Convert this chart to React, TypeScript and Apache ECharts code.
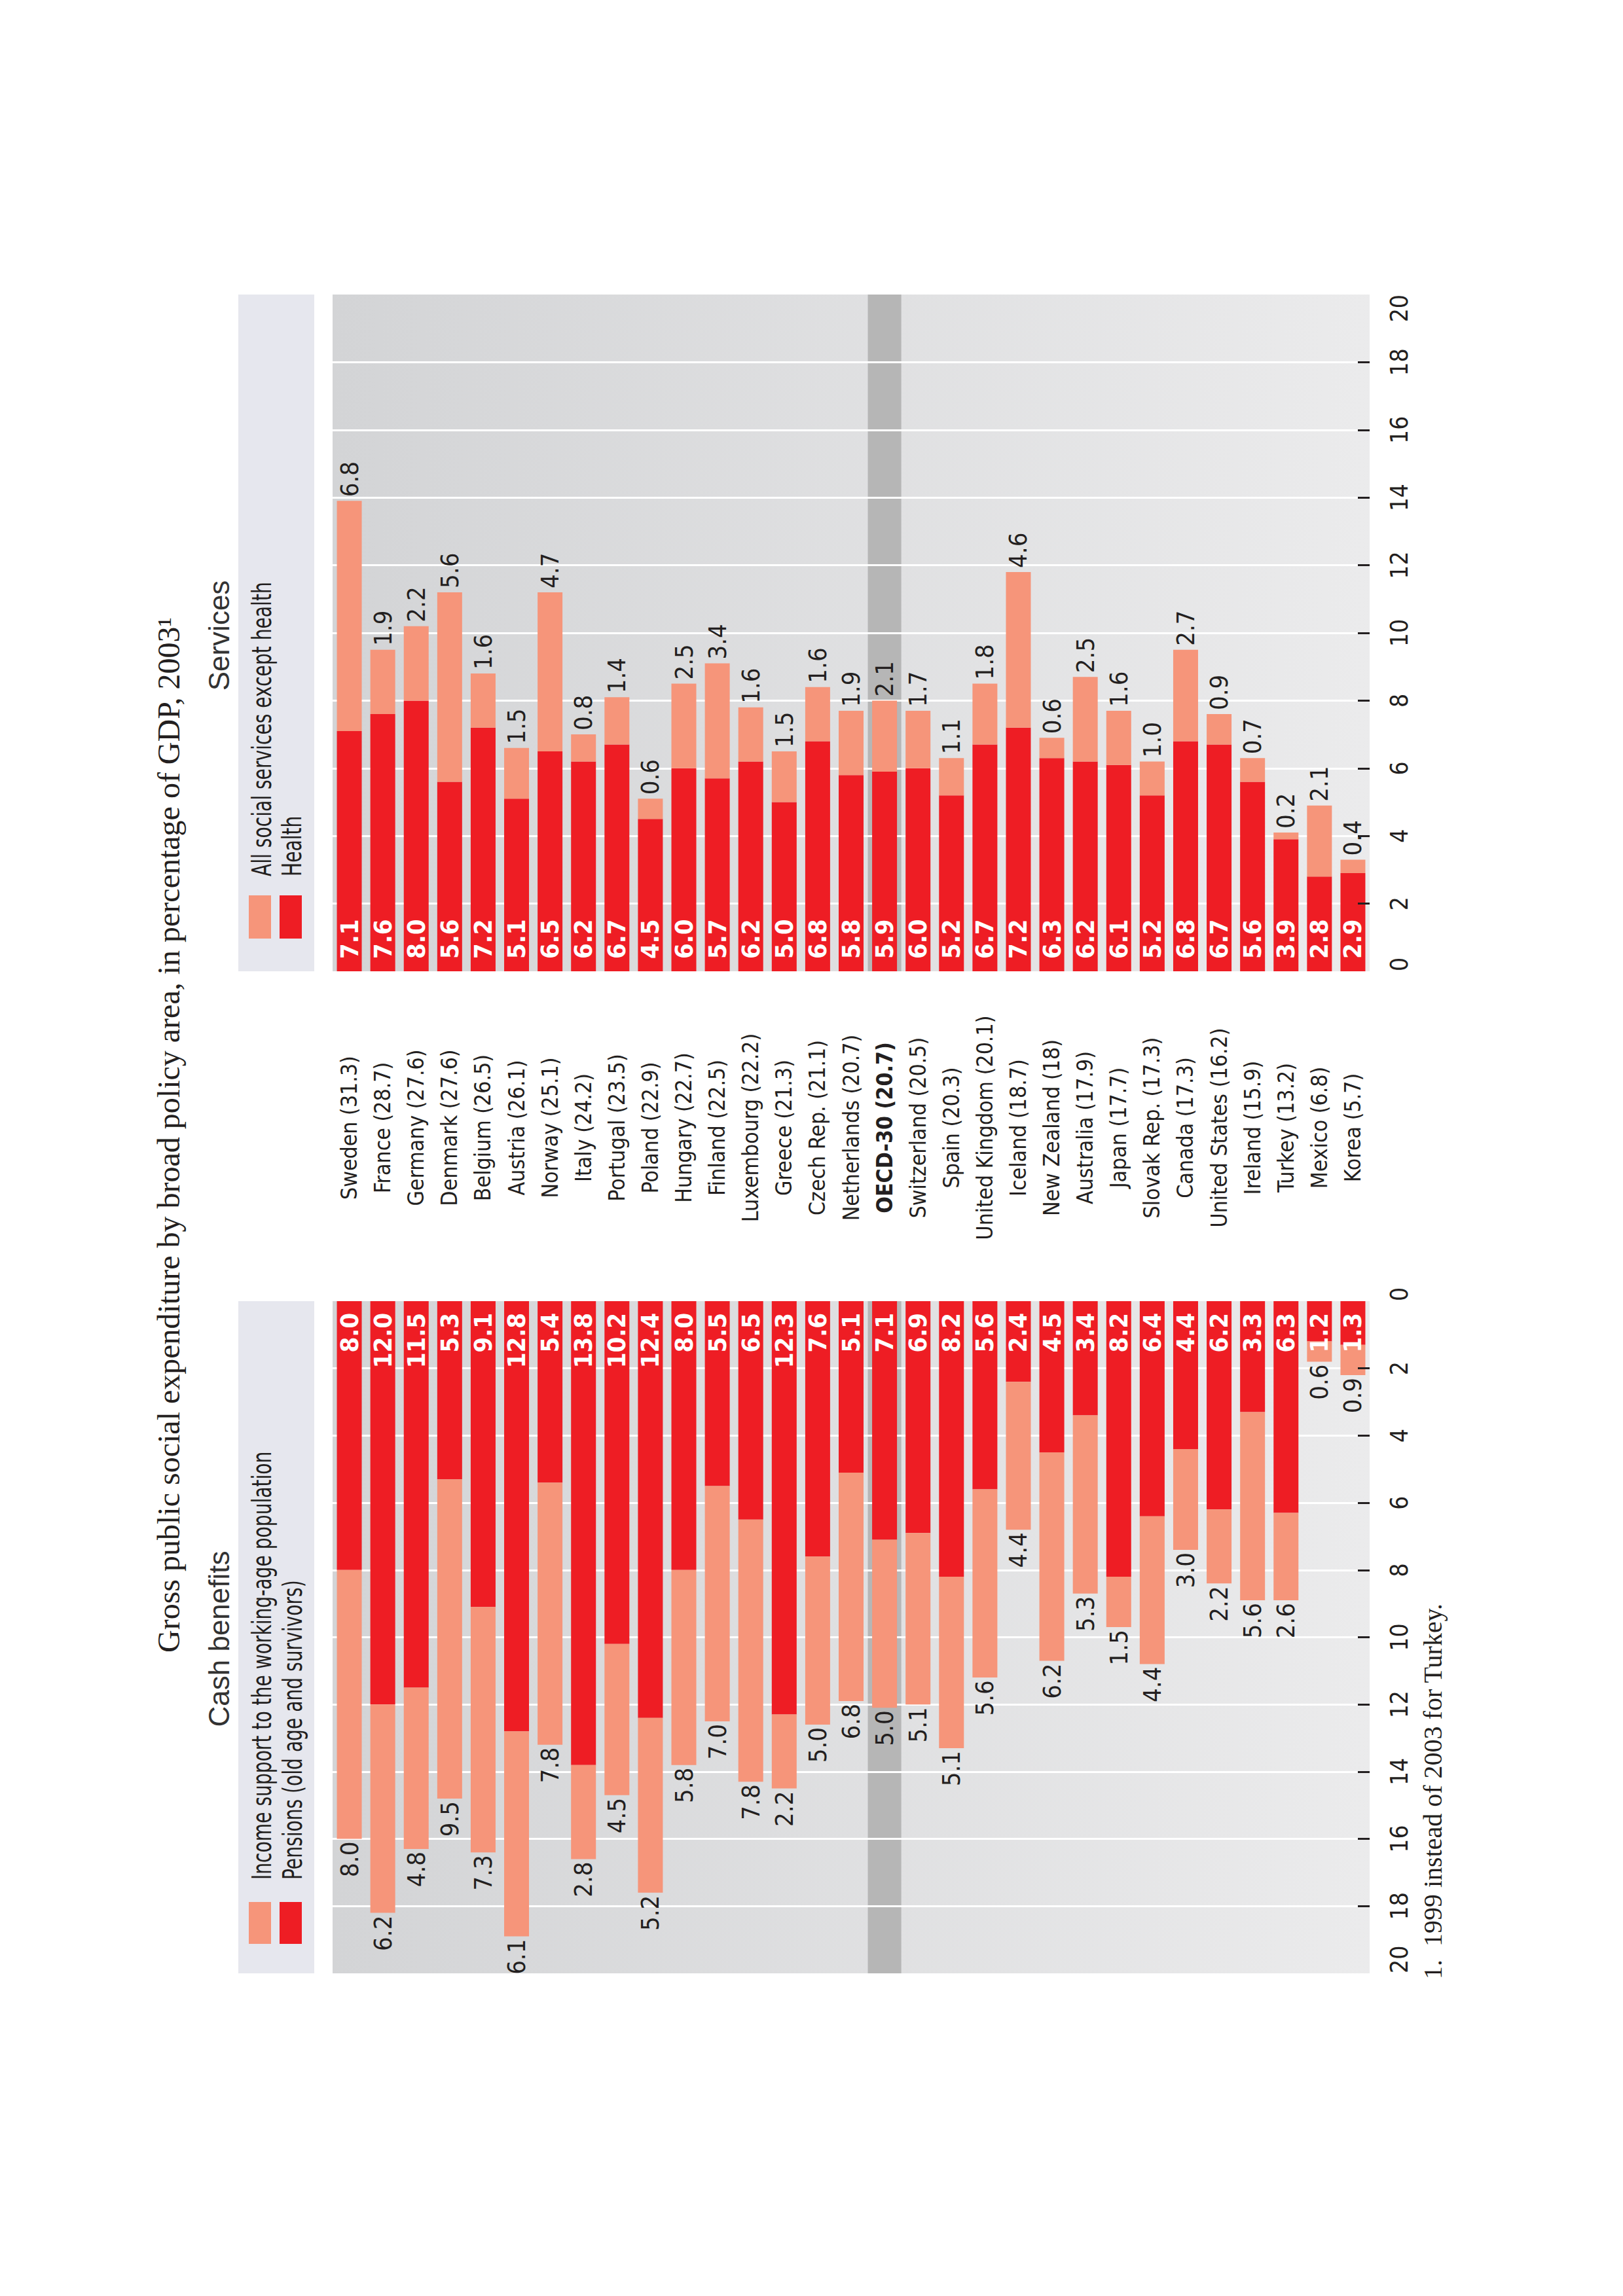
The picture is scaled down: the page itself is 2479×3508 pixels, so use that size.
import React, { useEffect, useRef } from "react";
import * as echarts from "echarts";

const countryNames = [
  "Sweden", "France", "Germany", "Denmark", "Belgium", "Austria", "Norway", "Italy",
  "Portugal", "Poland", "Hungary", "Finland", "Luxembourg", "Greece", "Czech Rep.",
  "Netherlands", "OECD-30", "Switzerland", "Spain", "United Kingdom", "Iceland",
  "New Zealand", "Australia", "Japan", "Slovak Rep.", "Canada", "United States",
  "Ireland", "Turkey", "Mexico", "Korea",
];
const totalSpending = [
  31.3, 28.7, 27.6, 27.6, 26.5, 26.1, 25.1, 24.2, 23.5, 22.9, 22.7, 22.5, 22.2, 21.3,
  21.1, 20.7, 20.7, 20.5, 20.3, 20.1, 18.7, 18, 17.9, 17.7, 17.3, 17.3, 16.2, 15.9,
  13.2, 6.8, 5.7,
];
const highlightCountry = "OECD-30";

// Cash benefits
const pensions = [
  8.0, 12.0, 11.5, 5.3, 9.1, 12.8, 5.4, 13.8, 10.2, 12.4, 8.0, 5.5, 6.5, 12.3, 7.6, 5.1,
  7.1, 6.9, 8.2, 5.6, 2.4, 4.5, 3.4, 8.2, 6.4, 4.4, 6.2, 3.3, 6.3, 1.2, 1.3,
];
const incomeSupport = [
  8.0, 6.2, 4.8, 9.5, 7.3, 6.1, 7.8, 2.8, 4.5, 5.2, 5.8, 7.0, 7.8, 2.2, 5.0, 6.8,
  5.0, 5.1, 5.1, 5.6, 4.4, 6.2, 5.3, 1.5, 4.4, 3.0, 2.2, 5.6, 2.6, 0.6, 0.9,
];
// Services
const health = [
  7.1, 7.6, 8.0, 5.6, 7.2, 5.1, 6.5, 6.2, 6.7, 4.5, 6.0, 5.7, 6.2, 5.0, 6.8, 5.8,
  5.9, 6.0, 5.2, 6.7, 7.2, 6.3, 6.2, 6.1, 5.2, 6.8, 6.7, 5.6, 3.9, 2.8, 2.9,
];
const otherServices = [
  6.8, 1.9, 2.2, 5.6, 1.6, 1.5, 4.7, 0.8, 1.4, 0.6, 2.5, 3.4, 1.6, 1.5, 1.6, 1.9,
  2.1, 1.7, 1.1, 1.8, 4.6, 0.6, 2.5, 1.6, 1.0, 2.7, 0.9, 0.7, 0.2, 2.1, 0.4,
];

const valueTicks = [0, 2, 4, 6, 8, 10, 12, 14, 16, 18, 20];
const servicesLegend = ["All social services except health", "Health"];
const cashLegend = ["Income support to the working-age population", "Pensions (old age and survivors)"];
const titleText = "Gross public social expenditure by broad policy area, in percentage of GDP, 2003\u00B9";
const cashTitle = "Cash benefits";
const servicesTitle = "Services";
const footnote = "1.  1999 instead of 2003 for Turkey.";

const RED = "#ee1d24";
const SALMON = "#f6957a";
const BAND = "#b6b6b6";
const DARK = "#231f20";
const LEGEND_BG = "#e6e7ee";
const SANS = "'Liberation Sans', Arial, sans-serif";
const SERIF = "'Liberation Serif', 'Times New Roman', serif";

const W = 2479;
const H = 3508;

const SAMPLE = "United Kingdom (20.1) Income support 0123456789";

function measure(font: string): number {
  const ctx = document.createElement("canvas").getContext("2d");
  if (!ctx) return 0;
  ctx.font = font;
  return ctx.measureText(SAMPLE).width;
}

function fontPresent(name: string): boolean {
  for (const base of ["monospace", "serif"]) {
    const w0 = measure(`40px ${base}`);
    const w1 = measure(`40px '${name}', ${base}`);
    if (Math.abs(w0 - w1) > 0.5) return true;
  }
  return false;
}

function pickNarrow(): { family: string; k: number } {
  const candidates = [
    "Liberation Sans Narrow",
    "Arial Narrow",
    "Noto Sans Condensed",
    "Noto Sans ExtraCondensed",
    "Noto Sans SemiCondensed",
    "DejaVu Sans Condensed",
    "Roboto",
    "Liberation Sans",
  ];
  let chosen = "Liberation Sans";
  for (const c of candidates) {
    if (fontPresent(c)) {
      chosen = c;
      break;
    }
  }
  const ref = measure(`40px 'Liberation Sans', Arial, sans-serif`);
  const w = measure(`40px '${chosen}', sans-serif`);
  const r = ref > 0 && w > 0 ? w / ref : 1;
  // target width ~0.8 of Arial
  const k = Math.min(1, 0.8 / r);
  return { family: `'${chosen}', sans-serif`, k };
}

export default function App() {
  const ref = useRef<HTMLDivElement>(null);

  useEffect(() => {
    if (!ref.current) return;
    const chart = echarts.init(ref.current, null, { renderer: "svg" });
    const { family: NARROW, k } = pickNarrow();
    const catSize = Math.round(39 * Math.pow(k, 0.6) * 10) / 10;

    const vMin = valueTicks[0];
    const vMax = valueTicks[valueTicks.length - 1];
    const vInterval = valueTicks[1] - valueTicks[0];
    const innerTicks = valueTicks.filter((v) => v > vMin && v < vMax);
    const categoryLabels = countryNames.map((n, i) => `${n} (${totalSpending[i]})`);
    const bandValues = countryNames.map((n) => (n === highlightCountry ? vMax : "-"));

    const bgGrad = () =>
      new echarts.graphic.LinearGradient(0, 0, 1, 0, [
        { offset: 0, color: "#d3d4d6" },
        { offset: 1, color: "#ebebec" },
      ]);

    const gridBase = { left: 508, width: 1584, show: true, borderWidth: 0, z: 0 };

    const splitAxis = (gridIndex: number, inverse: boolean) => ({
      type: "value",
      gridIndex,
      min: vMin,
      max: vMax,
      interval: vInterval,
      inverse,
      position: "right",
      z: 2,
      axisLine: { show: false },
      axisTick: { show: false },
      axisLabel: { show: false },
      splitLine: { show: true, showMinLine: false, showMaxLine: false, lineStyle: { color: "#ffffff", width: 3 } },
    });
    const tickAxis = (gridIndex: number, inverse: boolean) => ({
      type: "value",
      gridIndex,
      min: vMin,
      max: vMax,
      interval: vInterval,
      inverse,
      position: "right",
      z: 5,
      axisLine: { show: false },
      splitLine: { show: false },
      axisTick: {
        show: true,
        inside: true,
        length: 18,
        customValues: innerTicks,
        lineStyle: { color: DARK, width: 3 },
      },
      axisLabel: {
        rotate: 90,
        margin: 45,
        fontFamily: NARROW,
        fontSize: 37,
        color: DARK,
        align: "center",
        verticalAlign: "middle",
        alignMinLabel: "left",
        alignMaxLabel: inverse ? "left" : "right",
      },
    });
    const hiddenCat = (gridIndex: number) => ({
      type: "category",
      gridIndex,
      data: categoryLabels,
      show: false,
    });

    const labelDark = { fontFamily: NARROW, fontSize: 38, color: DARK };
    const labelWhite = { fontFamily: NARROW, fontSize: 38, color: "#ffffff", fontWeight: "bold" };
    const fmt = (p: any) => Number(p.value).toFixed(1);

    const rotText = (text: string, x: number, y: number, align: string, style: any, sx = 1) => ({
      type: "text",
      x,
      y,
      rotation: Math.PI / 2,
      scaleX: sx,
      silent: true,
      style: { text, textAlign: align, textVerticalAlign: "middle", ...style },
    });

    const option: any = {
      animation: false,
      backgroundColor: "#ffffff",
      grid: [
        { ...gridBase, backgroundColor: bgGrad(), top: 450, height: 1034 },
        { ...gridBase, backgroundColor: bgGrad(), top: 1988, height: 1027 },
      ],
      xAxis: [
        {
          type: "category",
          gridIndex: 0,
          data: categoryLabels,
          position: "bottom",
          axisLine: { show: false },
          axisTick: { show: false },
          splitLine: { show: false },
          axisLabel: {
            interval: 0,
            rotate: 90,
            margin: 239,
            align: "center",
            verticalAlign: "middle",
            fontFamily: NARROW,
            fontSize: catSize,
            color: DARK,
            formatter: (v: string) => (v.startsWith(highlightCountry) ? `{b|${v}}` : v),
            rich: { b: { fontFamily: NARROW, fontSize: catSize, color: DARK, fontWeight: "bold" } },
          },
        },
        hiddenCat(0),
        hiddenCat(1),
        hiddenCat(1),
      ],
      yAxis: [splitAxis(0, false), tickAxis(0, false), splitAxis(1, true), tickAxis(1, true)],
      series: [
        {
          type: "bar",
          xAxisIndex: 1,
          yAxisIndex: 0,
          data: bandValues,
          barWidth: "100%",
          itemStyle: { color: BAND },
          z: 1,
          silent: true,
        },
        {
          name: servicesLegend[1],
          type: "bar",
          xAxisIndex: 0,
          yAxisIndex: 0,
          stack: "services",
          data: health,
          barWidth: 38,
          itemStyle: { color: RED },
          z: 3,
          label: {
            show: true,
            position: "insideBottom",
            distance: 19,
            rotate: 90,
            align: "left",
            verticalAlign: "middle",
            formatter: fmt,
            ...labelWhite,
          },
        },
        {
          name: servicesLegend[0],
          type: "bar",
          xAxisIndex: 0,
          yAxisIndex: 0,
          stack: "services",
          data: otherServices,
          barWidth: 38,
          itemStyle: { color: SALMON },
          z: 3,
          label: {
            show: true,
            position: "top",
            distance: 6,
            rotate: 90,
            align: "left",
            verticalAlign: "middle",
            formatter: fmt,
            ...labelDark,
          },
        },
        {
          type: "bar",
          xAxisIndex: 3,
          yAxisIndex: 2,
          data: bandValues,
          barWidth: "100%",
          itemStyle: { color: BAND },
          z: 1,
          silent: true,
        },
        {
          name: cashLegend[1],
          type: "bar",
          xAxisIndex: 2,
          yAxisIndex: 2,
          stack: "cash",
          data: pensions,
          barWidth: 38,
          itemStyle: { color: RED },
          z: 3,
          label: {
            show: true,
            position: "insideTop",
            distance: 18,
            rotate: 90,
            align: "right",
            verticalAlign: "middle",
            formatter: fmt,
            ...labelWhite,
          },
        },
        {
          name: cashLegend[0],
          type: "bar",
          xAxisIndex: 2,
          yAxisIndex: 2,
          stack: "cash",
          data: incomeSupport,
          barWidth: 38,
          itemStyle: { color: SALMON },
          z: 3,
          label: {
            show: true,
            position: "bottom",
            distance: 4,
            rotate: 90,
            align: "right",
            verticalAlign: "middle",
            formatter: fmt,
            ...labelDark,
          },
        },
      ],
      graphic: [
        { type: "rect", silent: true, shape: { x: 364, y: 450, width: 116, height: 1034 }, style: { fill: LEGEND_BG } },
        { type: "rect", silent: true, shape: { x: 364, y: 1988, width: 116, height: 1027 }, style: { fill: LEGEND_BG } },
        { type: "rect", silent: true, shape: { x: 380, y: 1368, width: 34, height: 66 }, style: { fill: SALMON } },
        { type: "rect", silent: true, shape: { x: 427, y: 1368, width: 34, height: 66 }, style: { fill: RED } },
        { type: "rect", silent: true, shape: { x: 380, y: 2906, width: 34, height: 64 }, style: { fill: SALMON } },
        { type: "rect", silent: true, shape: { x: 427, y: 2906, width: 34, height: 64 }, style: { fill: RED } },
        rotText(servicesLegend[0], 400, 1339, "left", { font: `40px ${NARROW}`, fill: DARK }, k),
        rotText(servicesLegend[1], 446, 1339, "left", { font: `40px ${NARROW}`, fill: DARK }, k),
        rotText(cashLegend[0], 400, 2872, "left", { font: `40px ${NARROW}`, fill: DARK }, k),
        rotText(cashLegend[1], 447, 2872, "left", { font: `40px ${NARROW}`, fill: DARK }, k),
        rotText(titleText, 257, 1734, "center", { font: `48px ${SERIF}`, fill: DARK }),
        rotText(servicesTitle, 334, 971, "center", { font: `44px ${SANS}`, fill: "#333333" }),
        rotText(cashTitle, 334, 2504, "center", { font: `44px ${SANS}`, fill: "#333333" }),
        rotText(footnote, 2188, 3024, "left", { font: `40px ${SERIF}`, fill: DARK }),
      ],
    };

    chart.setOption(option);
    return () => chart.dispose();
  }, []);

  return (
    <div
      ref={ref}
      style={{ position: "absolute", left: 0, top: 0, width: W, height: H, background: "#ffffff" }}
    />
  );
}
